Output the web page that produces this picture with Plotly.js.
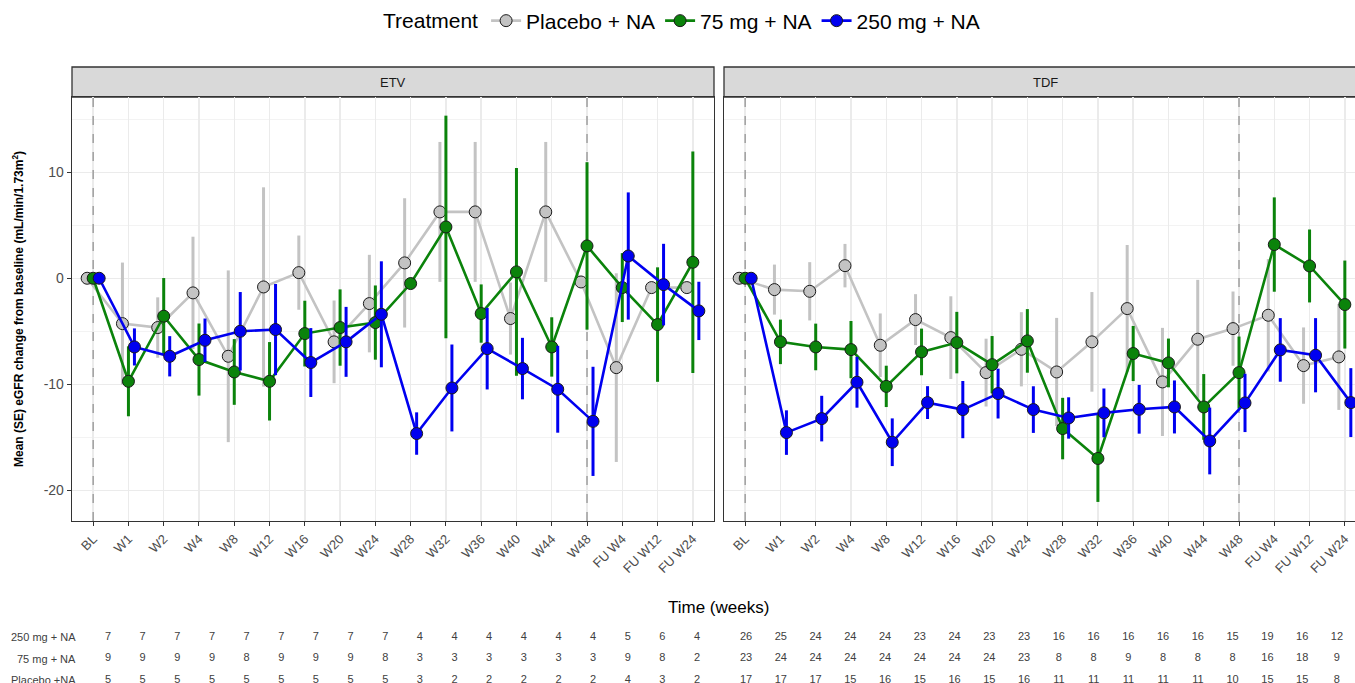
<!DOCTYPE html>
<html>
<head>
<meta charset="utf-8">
<script src="https://cdn.plot.ly/plotly-3.0.1.min.js"></script>
<style>html,body{margin:0;padding:0;background:#fff;}#chart{width:1355px;height:683px;}</style>
</head>
<body>
<div id="chart"></div>
<script>
// ---------- data ----------
const categories = ['BL','W1','W2','W4','W8','W12','W16','W20','W24','W28','W32','W36','W40','W44','W48','FU W4','FU W12','FU W24'];
const panels = ['ETV','TDF'];
const treatments = ['Placebo + NA','75 mg + NA','250 mg + NA'];
const tableLabels = ['Placebo +NA','75 mg + NA','250 mg + NA'];

const etvPlaceboMean = [0,-4.28,-4.65,-1.38,-7.36,-0.82,0.53,-6.0,-2.39,1.45,6.26,6.26,-3.8,6.26,-0.35,-8.43,-0.88,-0.88];
const etvPlaceboSE   = [0,5.76,2.85,5.3,8.1,9.4,3.5,3.9,4.6,6.1,6.6,6.6,3.4,6.6,0,8.9,0,0];
const etv75Mean      = [0,-9.72,-3.58,-7.67,-8.84,-9.72,-5.22,-4.65,-4.18,-0.5,4.84,-3.33,0.6,-6.48,3.05,-0.88,-4.37,1.51];
const etv75SE        = [0,3.3,3.6,3.4,3.1,3.7,3.1,3.6,3.5,0,10.5,2.75,9.8,2.8,7.9,3.25,5.4,10.45];
const etv250Mean     = [0,-6.48,-7.36,-5.85,-5.0,-4.84,-7.95,-6.0,-3.4,-14.65,-10.35,-6.64,-8.52,-10.47,-13.5,2.1,-0.6,-3.08];
const etv250SE       = [0,1.75,1.9,2.05,3.7,4.3,3.25,3.3,5.0,2.0,4.1,3.85,2.9,4.1,5.15,6.0,3.85,2.75];

const tdfPlaceboMean = [0,-1.07,-1.23,1.19,-6.32,-3.9,-5.6,-8.9,-6.7,-8.84,-6.0,-2.86,-9.78,-5.75,-4.75,-3.49,-8.24,-7.42];
const tdfPlaceboSE   = [0,2.36,2.75,2.05,3.0,2.4,3.9,3.2,3.5,5.1,4.7,6.0,5.1,5.6,3.5,5.3,3.6,5.0];
const tdf75Mean      = [0,-6.0,-6.48,-6.73,-10.2,-6.95,-6.07,-8.15,-5.91,-14.18,-17.0,-7.1,-7.99,-12.14,-8.9,3.18,1.16,-2.48];
const tdf75SE        = [0,2.1,2.2,2.7,1.95,2.2,2.9,2.7,3.0,2.9,4.1,2.6,2.3,3.1,3.4,4.45,3.44,4.15];
const tdf250Mean     = [0,-14.56,-13.24,-9.81,-15.47,-11.73,-12.39,-10.88,-12.39,-13.18,-12.7,-12.36,-12.14,-15.35,-11.76,-6.76,-7.26,-11.73];
const tdf250SE       = [0,2.1,2.15,2.4,2.25,1.55,2.7,2.35,2.2,1.95,2.3,2.3,2.5,3.15,2.75,3.0,3.5,3.25];

// numbers at risk
const etvN250     = [7,7,7,7,7,7,7,7,7,4,4,4,4,4,4,5,6,4];
const etvN75      = [9,9,9,9,8,9,9,9,8,3,3,3,3,3,3,9,8,2];
const etvNPlacebo = [5,5,5,5,5,5,5,5,5,3,2,2,2,2,2,4,3,2];
const tdfN250     = [26,25,24,24,24,23,24,23,23,16,16,16,16,16,15,19,16,12];
const tdfN75      = [23,24,24,24,24,24,24,24,23,8,8,9,8,8,8,16,18,9];
const tdfNPlacebo = [17,17,17,15,16,15,16,15,16,11,11,11,11,11,10,15,15,8];

const yTicks = [10,0,-10,-20];
const refLines = ['BL','W48'];

// ---------- styling ----------
const W = 1355, H = 683;
const px = v => v / W;
const py = v => 1 - v / H;
const colors = ['#c3c3c3','#0b830b','#0000f0'];
const groups = ['pl','m75','m250'];
const FONT = 'Liberation Sans, Arial, Helvetica, sans-serif';
const yRange = [-22.9, 17.1];

const series = {
  ETV: [[etvPlaceboMean,etvPlaceboSE],[etv75Mean,etv75SE],[etv250Mean,etv250SE]],
  TDF: [[tdfPlaceboMean,tdfPlaceboSE],[tdf75Mean,tdf75SE],[tdf250Mean,tdf250SE]]
};
const nTables = {
  ETV: [etvNPlacebo, etvN75, etvN250],
  TDF: [tdfNPlacebo, tdfN75, tdfN250]
};

const traces = [];
panels.forEach((p, pi) => {
  treatments.forEach((t, ti) => {
    const [m, se] = series[p][ti];
    traces.push({
      type: 'scatter', mode: 'lines+markers',
      x: categories, y: m,
      xaxis: pi === 0 ? 'x' : 'x2', yaxis: pi === 0 ? 'y' : 'y2',
      name: t, legendgroup: t, showlegend: pi === 0,
      offsetgroup: groups[ti],
      line: {color: colors[ti], width: 2.6},
      marker: {color: colors[ti], size: 12, line: {color: '#1a1a1a', width: 1}},
      error_y: {type: 'data', array: se, visible: true, color: colors[ti], thickness: 3, width: 0},
      cliponaxis: false
    });
  });
});

// numbers-at-risk tables as text marks
panels.forEach((p, pi) => {
  treatments.forEach((t, ti) => {
    traces.push({
      type: 'scatter', mode: 'text',
      x: categories, y: categories.map(() => t),
      text: nTables[p][ti].map(String),
      textfont: {family: FONT, size: 11, color: '#404040'},
      xaxis: pi === 0 ? 'x3' : 'x4', yaxis: 'y3',
      offsetgroup: 'table',
      showlegend: false, hoverinfo: 'skip', cliponaxis: false
    });
  });
});

const etvDom = [px(72), px(714)];
const tdfDom = [px(724), 1];
const plotDom = [py(521), py(97)];
const unit = 642 / 18.2;

const xBase = {
  type: 'category', categoryorder: 'array', categoryarray: categories,
  showgrid: true, gridcolor: '#ebebeb', gridwidth: 1.4,
  showline: true, mirror: true, linecolor: '#333333', linewidth: 1.3,
  ticks: 'outside', ticklen: 4, tickcolor: '#333333', tickwidth: 1,
  tickangle: -45, tickfont: {family: FONT, size: 13, color: '#4d4d4d'},
  zeroline: false, fixedrange: true
};
const yBase = {
  range: yRange, tickvals: yTicks, ticktext: yTicks.map(String),
  showgrid: true, gridcolor: '#ebebeb', gridwidth: 1.4,
  minor: {dtick: 5, tick0: 5, showgrid: true, gridcolor: '#f3f3f3', gridwidth: 1, ticks: ''},
  showline: true, linecolor: '#333333', linewidth: 1.3,
  zeroline: false, fixedrange: true
};

const layout = {
  width: W, height: H,
  margin: {l: 0, r: 0, t: 0, b: 0},
  paper_bgcolor: '#ffffff', plot_bgcolor: '#ffffff',
  font: {family: FONT, color: '#1a1a1a'},
  scattermode: 'group', scattergap: 0.49,
  showlegend: true,
  legend: {
    orientation: 'h', x: px(381), xanchor: 'left', y: py(21), yanchor: 'middle',
    title: {text: 'Treatment', font: {size: 21, family: FONT, color: '#000'}, side: 'left'},
    font: {size: 21, family: FONT, color: '#000'}, itemwidth: 30, tracegroupgap: 0,
    bgcolor: 'rgba(0,0,0,0)'
  },
  xaxis: Object.assign({}, xBase, {domain: etvDom, anchor: 'y', range: [-0.6, 17.6]}),
  xaxis2: Object.assign({}, xBase, {domain: tdfDom, anchor: 'y2', range: [-0.6, -0.6 + 631 / unit]}),
  yaxis: Object.assign({}, yBase, {domain: plotDom, anchor: 'x', mirror: true,
    ticks: 'outside', ticklen: 4, tickcolor: '#333333', tickwidth: 1,
    tickfont: {family: FONT, size: 14, color: '#4d4d4d'}}),
  yaxis2: Object.assign({}, yBase, {domain: plotDom, anchor: 'x2', mirror: false, showticklabels: false, ticks: ''}),
  xaxis3: {type: 'category', categoryorder: 'array', categoryarray: categories,
    domain: etvDom, anchor: 'y3', range: [-36 / 34.65, -36 / 34.65 + 642 / 34.65],
    visible: false, fixedrange: true},
  xaxis4: {type: 'category', categoryorder: 'array', categoryarray: categories,
    domain: tdfDom, anchor: 'y3', range: [-22 / 34.76, -22 / 34.76 + 631 / 34.76],
    visible: false, fixedrange: true},
  yaxis3: {type: 'category', categoryorder: 'array', categoryarray: treatments,
    domain: [0, py(614.7)], anchor: 'x3', range: [-3 / 21.5, -3 / 21.5 + 68.3 / 21.5],
    visible: false, fixedrange: true},
  shapes: [],
  annotations: []
};

// strips
[[72, 714], [724, 1400]].forEach((d, i) => {
  layout.shapes.push({type: 'rect', xref: 'paper', yref: 'paper',
    x0: px(d[0]), x1: px(d[1]), y0: py(97), y1: py(67),
    fillcolor: '#d9d9d9', line: {color: '#333333', width: 1.3}, layer: 'below'});
});
[[393, panels[0]], [1045, panels[1]]].forEach(([cx, txt]) => {
  layout.annotations.push({xref: 'paper', yref: 'paper', x: px(cx), y: py(82), text: txt,
    xanchor: 'center', yanchor: 'middle',
    showarrow: false, font: {size: 13, color: '#1a1a1a', family: FONT}});
});

// dashed reference lines at BL and W48 (between gridlines and data)
['x', 'x2'].forEach((ax, i) => {
  refLines.forEach(c => {
    const idx = categories.indexOf(c);
    layout.shapes.push({type: 'line', xref: ax, yref: i === 0 ? 'y' : 'y2',
      x0: idx, x1: idx, y0: yRange[0], y1: yRange[1],
      line: {color: '#9a9a9a', width: 1.4, dash: 'dash'}, layer: 'between'});
  });
});

// axis titles
layout.annotations.push({xref: 'paper', yref: 'paper', x: px(18), y: py(309), textangle: -90,
  xanchor: 'center', yanchor: 'middle',
  text: '<b>Mean (SE) eGFR change from baseline (mL/min/1.73m<sup>2</sup>)</b>',
  showarrow: false, font: {size: 12, color: '#000', family: FONT}});
layout.annotations.push({xref: 'paper', yref: 'paper', x: px(718), y: py(607),
  xanchor: 'center', yanchor: 'middle',
  text: 'Time (weeks)', showarrow: false, font: {size: 17, color: '#000', family: FONT}});

// table row labels
treatments.forEach((t, i) => {
  layout.annotations.push({xref: 'paper', yref: 'y3', x: px(78), y: t, xanchor: 'right', yanchor: 'middle',
    text: tableLabels[i], showarrow: false,
    font: {size: 11, color: '#404040', family: FONT}});
});

Plotly.newPlot('chart', traces, layout, {displayModeBar: false, staticPlot: true});
</script>
</body>
</html>
